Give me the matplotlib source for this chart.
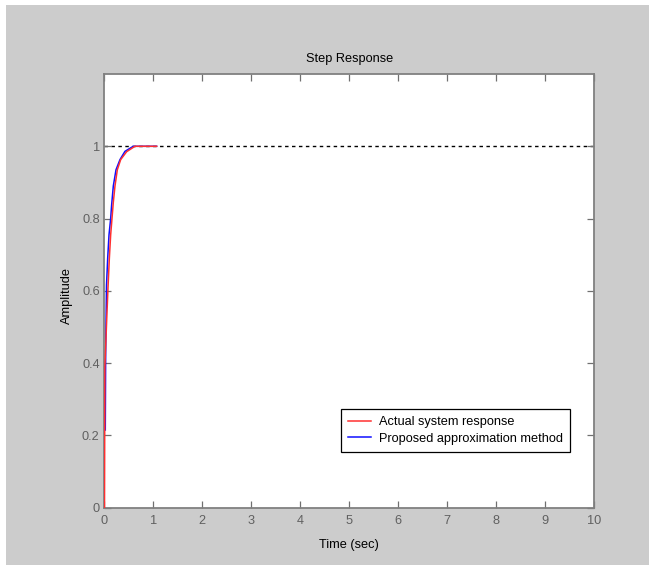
import matplotlib
matplotlib.use("Agg")
import matplotlib.pyplot as plt
from matplotlib.patches import Rectangle

FONT = ['Liberation Sans', 'DejaVu Sans']
plt.rcParams['font.family'] = FONT

# Data
t_actual = [0.0, 0.008, 0.045, 0.072, 0.099, 0.126, 0.153, 0.18, 0.214, 0.262, 0.33, 0.452, 0.622, 1.065]
y_actual = [0.0, 0.39, 0.52, 0.61, 0.69, 0.755, 0.80, 0.845, 0.89, 0.935, 0.963, 0.985, 1.0, 1.0]
t_approx = [0.016, 0.024, 0.041, 0.065, 0.092, 0.126, 0.146, 0.18, 0.235, 0.316, 0.418, 0.588, 1.065]
y_approx = [0.215, 0.43, 0.616, 0.69, 0.755, 0.80, 0.838, 0.89, 0.935, 0.963, 0.986, 1.0, 1.0]
x_ticks = list(range(0, 11))
y_ticks = [0, 0.2, 0.4, 0.6, 0.8, 1]
y_tick_labels = ['0', '0.2', '0.4', '0.6', '0.8', '1']
series_names = ['Actual system response', 'Proposed approximation method']
title = 'Step Response'
xlabel = 'Time (sec)'
ylabel = 'Amplitude'

FS = 9.2
W, H = 649, 565
fig = plt.figure(figsize=(W / 100, H / 100), dpi=100, facecolor='white')
fig.patches.append(Rectangle((6 / W, 0), 1, 1 - 5 / H, transform=fig.transFigure,
                             facecolor='#cccccc', edgecolor='none', zorder=-10))

left, right, top, bottom = 104.5, 594, 74, 507.7
axw, axh = right - left, bottom - top
ax = fig.add_axes([left / W, 1 - bottom / H, axw / W, axh / H])
ax.set_facecolor('white')

ax.axhline(1, color='black', linestyle=(0, (2.5, 2.5)), linewidth=1.0, zorder=1)
ax.plot(t_approx, y_approx, color='#1010ff', linewidth=1.1,
        label=series_names[1], zorder=2)
ax.plot(t_actual, y_actual, color='#ff3030', linewidth=1.1,
        label=series_names[0], zorder=3)

ax.set_xlim(0, 10)
ax.set_ylim(0, 1.2)
ax.set_xticks(x_ticks)
ax.set_yticks(y_ticks)
ax.set_yticklabels(y_tick_labels)
ax.tick_params(direction='in', length=5, width=0.9, color='#707070',
               labelsize=FS, labelcolor='#606060', top=True, right=True)
ax.tick_params(axis='x', pad=5.5)
ax.tick_params(axis='y', pad=3.5)
for s in ax.spines.values():
    s.set_color('#808080')
    s.set_linewidth(1.3)

ax.set_title(title, fontsize=FS, pad=8.5)
ax.set_xlabel(xlabel, fontsize=FS, va='center')
ax.xaxis.set_label_coords((349 - left) / axw, (bottom - 545) / axh)
ax.set_ylabel(ylabel, fontsize=FS, va='center')
ax.yaxis.set_label_coords((66.5 - left) / axw, (bottom - 295) / axh)

handles, labels = ax.get_legend_handles_labels()
order = [1, 0]
leg = ax.legend([handles[i] for i in order], [labels[i] for i in order],
                loc='upper left', bbox_to_anchor=((341 - left) / axw, (bottom - 409) / axh),
                borderaxespad=0, fontsize=FS, frameon=True, fancybox=False, framealpha=1,
                edgecolor='black', handlelength=1.8, handletextpad=0.6,
                borderpad=0.58, labelspacing=0.33)
leg.get_frame().set_linewidth(0.9)

fig.savefig('out.png', dpi=100, facecolor=fig.get_facecolor())
